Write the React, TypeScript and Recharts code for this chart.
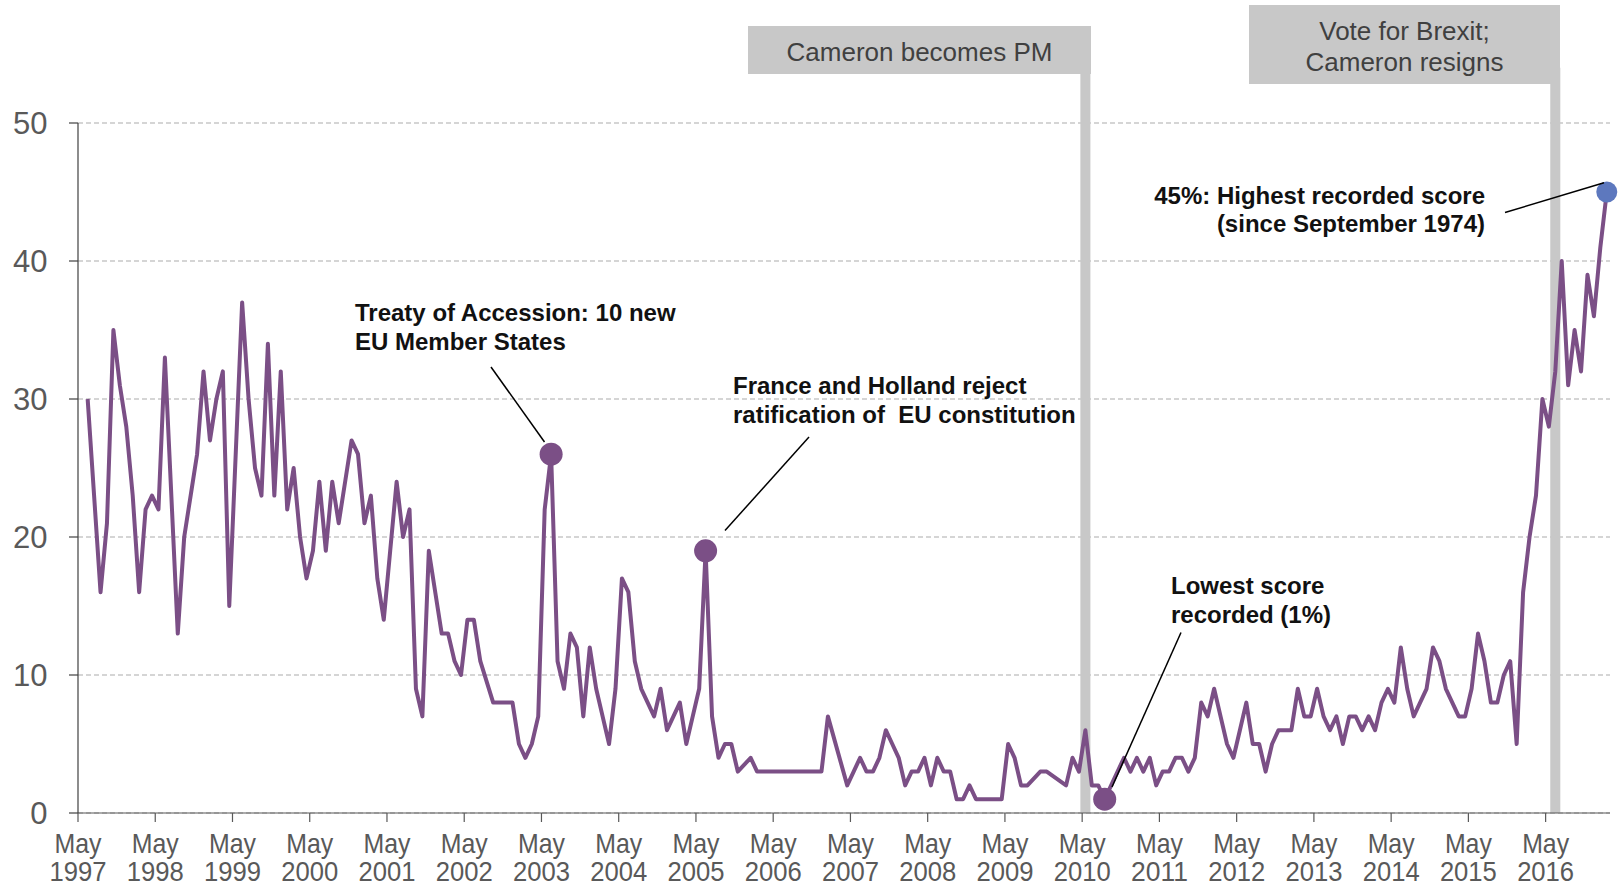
import React from 'react';
import { LineChart, Line, XAxis, YAxis, CartesianGrid, ReferenceArea } from 'recharts';

// Share naming Europe / EU as an important issue, monthly from June 1997
const years = [
  1997, 1998, 1999, 2000, 2001, 2002, 2003, 2004, 2005, 2006,
  2007, 2008, 2009, 2010, 2011, 2012, 2013, 2014, 2015, 2016,
];
const yTicks = [0, 10, 20, 30, 40, 50];

// months counted from May 1997; first reading is month 1 (null = no survey that month)
const firstMonth = 1;
const values: (number | null)[] = [
  30, 23, 16, 21, 35, 31, 28, 23, 16, 22, 23, 22,
  33, 23, 13, 20, 23, 26, 32, 27, 30, 32, 15, 26,
  37, 30, 25, 23, 34, 23, 32, 22, 25, 20, 17, 19,
  24, 19, 24, 21, 24, 27, 26, 21, 23, 17, 14, 19,
  24, 20, 22, 9, 7, 19, 16, 13, 13, 11, 10, 14,
  14, 11, null, 8, 8, 8, 8, 5, 4, 5, 7, 22,
  26, 11, 9, 13, 12, 7, 12, 9, 7, 5, 9, 17,
  16, 11, 9, 8, 7, 9, 6, 7, 8, 5, 7, 9,
  19, 7, 4, 5, 5, 3, null, 4, 3, 3, 3, 3,
  3, 3, 3, 3, 3, 3, 3, 7, null, null, 2, 3,
  4, 3, 3, 4, 6, 5, 4, 2, 3, 3, 4, 2,
  4, 3, 3, 1, 1, 2, 1, 1, 1, 1, 1, 5,
  4, 2, 2, null, 3, 3, null, null, 2, 4, 3, 6,
  2, 2, 1, 2, 3, 4, 3, 4, 3, 4, 2, 3,
  3, 4, 4, 3, 4, 8, 7, 9, 7, 5, 4, 6,
  8, 5, 5, 3, 5, 6, 6, 6, 9, 7, 7, 9,
  7, 6, 7, 5, 7, 7, 6, 7, 6, 8, 9, 8,
  12, 9, 7, 8, 9, 12, 11, 9, 8, 7, 7, 9,
  13, 11, 8, 8, 10, 11, 5, 16, 20, 23, 30, 28,
  32, 40, 31, 35, 32, 39, 36, 41, 45,
];

// highlighted readings (month index) -> dot colour
const highlights: Record<number, string> = {
  73: '#7B4F86',
  97: '#7B4F86',
  159: '#7B4F86',
  237: '#5D78BE',
};

// political events drawn as grey bars (month index)
const events = [
  { month: 156, lines: ['Cameron becomes PM'] },
  { month: 229, lines: ['Vote for Brexit;', 'Cameron resigns'] },
];

const data = values.map((v, i) => ({ t: firstMonth + i + 0.5, v }));

const LINE = '#7B4F86';
const GREY = '#C8C8C8';
const AXIS_TEXT = '#595959';
const SANS = "'Liberation Sans', Arial, sans-serif";

// the original uses a narrow face for the dates; squeeze Liberation Sans to match
const MonthTick = (props: any) => {
  const { x, y, payload } = props;
  const year = years[Math.round(payload.value / 12)];
  return (
    <text x={x} y={y + 30.5} textAnchor="middle" fontSize={28} fill={AXIS_TEXT} fontFamily={SANS}>
      <tspan x={x} textLength={47} lengthAdjust="spacingAndGlyphs">May</tspan>
      <tspan x={x} dy={28} textLength={57} lengthAdjust="spacingAndGlyphs">{year}</tspan>
    </text>
  );
};

const renderDot = (props: any) => {
  const { cx, cy, index, payload } = props;
  const month = Math.round(payload.t - 0.5);
  const color = highlights[month];
  if (!color || cy == null) return <g key={`d${index}`} />;
  const r = month === 237 ? 10.5 : 11.5;
  return <circle key={`d${index}`} cx={cx} cy={cy} r={r} fill={color} stroke="none" />;
};

const noteStyle = { fontFamily: SANS, fontWeight: 700, fontSize: 24, fill: '#111', whiteSpace: 'pre' as const };
const boxText = { fontFamily: SANS, fontSize: 26, fill: '#404040' };

const App: React.FC = () => {
  return (
    <div style={{ position: 'absolute', left: 0, top: 0, width: 1620, height: 886, background: '#fff' }}>
      <LineChart
        width={1620}
        height={886}
        data={data}
        margin={{ top: 123, right: 10, bottom: 0, left: 0 }}
        style={{ fontFamily: SANS }}
      >
        <CartesianGrid vertical={false} strokeDasharray="5 3" stroke="#ABABAB" />
        <XAxis
          dataKey="t"
          type="number"
          domain={[0, 238]}
          ticks={years.map((_, i) => i * 12)}
          interval={0}
          tick={<MonthTick />}
          tickSize={9}
          tickMargin={0}
          height={73}
          axisLine={{ stroke: '#595959', strokeWidth: 1.2 }}
          tickLine={{ stroke: '#595959', strokeWidth: 1.2 }}
        />
        <YAxis
          type="number"
          domain={[0, 50]}
          ticks={yTicks}
          width={78}
          tickSize={9}
          tickMargin={21.5}
          tick={{ fontSize: 31, fill: AXIS_TEXT, fontFamily: SANS }}
          axisLine={{ stroke: '#404040', strokeWidth: 1.2 }}
          tickLine={{ stroke: '#404040', strokeWidth: 1.2 }}
        />
        {events.map((e) => (
          <ReferenceArea
            key={e.month}
            x1={e.month + 0.5 - 0.78}
            x2={e.month + 0.5 + 0.78}
            y1={0}
            y2={54}
            fill={GREY}
            fillOpacity={1}
            stroke="none"
            ifOverflow="visible"
          />
        ))}
        <Line
          type="linear"
          dataKey="v"
          stroke={LINE}
          strokeWidth={4}
          strokeLinejoin="round"
          connectNulls
          dot={renderDot}
          activeDot={false}
          isAnimationActive={false}
        />
      </LineChart>

      <svg
        width={1620}
        height={886}
        style={{ position: 'absolute', left: 0, top: 0, pointerEvents: 'none' }}
      >
        {/* event boxes */}
        <rect x={748} y={26} width={343} height={48} fill={GREY} />
        <text x={919.5} y={60.5} textAnchor="middle" {...boxText}>{events[0].lines[0]}</text>
        <rect x={1249} y={5} width={311} height={79} fill={GREY} />
        <text x={1404.5} y={39.5} textAnchor="middle" {...boxText}>{events[1].lines[0]}</text>
        <text x={1404.5} y={71} textAnchor="middle" {...boxText}>{events[1].lines[1]}</text>

        {/* annotations */}
        <text x={355} y={320.5} style={noteStyle}>Treaty of Accession: 10 new</text>
        <text x={355} y={349.5} style={noteStyle}>EU Member States</text>
        <line x1={491} y1={367} x2={544.5} y2={442} stroke="#000" strokeWidth={1.5} />

        <text x={733} y={394} style={noteStyle}>France and Holland reject</text>
        <text x={733} y={423} style={noteStyle}>ratification of  EU constitution</text>
        <line x1={809} y1={437} x2={725} y2={530.5} stroke="#000" strokeWidth={1.5} />

        <text x={1171} y={594} style={noteStyle}>Lowest score</text>
        <text x={1171} y={623} style={noteStyle}>recorded (1%)</text>
        <line x1={1181} y1={632.5} x2={1112} y2={787} stroke="#000" strokeWidth={1.5} />

        <text x={1485} y={203.5} textAnchor="end" style={noteStyle}>45%: Highest recorded score</text>
        <text x={1485} y={232} textAnchor="end" style={noteStyle}>(since September 1974)</text>
        <line x1={1505} y1={212.5} x2={1604} y2={182.8} stroke="#000" strokeWidth={1.5} />
      </svg>
    </div>
  );
};

export default App;
